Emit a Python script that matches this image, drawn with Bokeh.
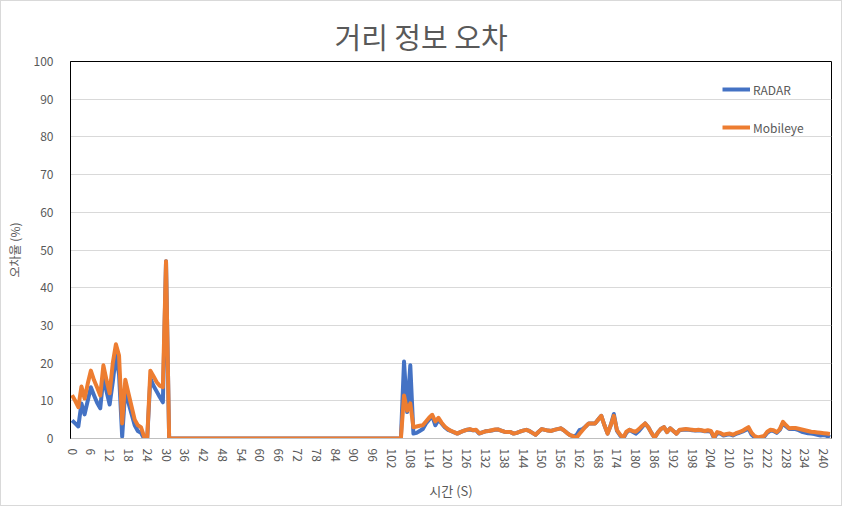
import math
from bokeh.plotting import figure
from bokeh.models import Range1d, FixedTicker, Legend, LegendItem, ColumnDataSource
from bokeh.embed import file_html
from bokeh.resources import INLINE

# ---- data ----
time_s = list(range(0, 243))
tick_values = list(range(0, 241, 6))
y_ticks = list(range(0, 101, 10))

radar = [
    4.8, 4.0, 3.2, 9.3, 6.4, 10.0, 13.6, 11.5, 9.5, 8.0,
    16.3, 12.5, 9.0, 15.0, 22.0, 17.0, 0.5, 13.0, 9.5, 6.5,
    3.5, 2.0, 1.5, 0.0, 0.0, 16.0, 14.0, 12.5, 11.0, 9.6,
    47.0,
    0, 0, 0, 0, 0, 0, 0, 0, 0, 0, 0, 0, 0, 0, 0, 0, 0, 0, 0, 0, 0, 0, 0, 0, 0,
    0, 0, 0, 0, 0, 0, 0, 0, 0, 0, 0, 0, 0, 0, 0, 0, 0, 0, 0, 0, 0, 0, 0, 0, 0,
    0, 0, 0, 0, 0, 0, 0, 0, 0, 0, 0, 0, 0, 0, 0, 0, 0, 0, 0, 0, 0, 0, 0, 0, 0,
    20.4, 7.0, 19.4, 1.3,
    1.5, 2.0, 2.5, 4.0, 5.0, 6.0, 3.5, 5.0, 4.0, 3.0,
    2.3, 2.0, 1.6, 1.3, 1.7, 2.0, 2.3, 2.4, 2.2, 2.2,
    1.3, 1.6, 1.9, 2.0, 2.1, 2.3, 2.4, 2.1, 1.8, 1.7,
    1.7, 1.3, 1.5, 1.8, 2.1, 2.3, 2.0, 1.5, 1.0, 1.8,
    2.5, 2.3, 2.1, 2.0, 2.3, 2.5, 2.7, 2.2, 1.5, 0.9,
    0.6, 0.8, 2.2, 2.5, 3.2, 4.0, 4.0, 4.0, 5.0, 6.0,
    3.5, 1.3, 3.5, 6.5, 2.0, 0.8, 0.0, 1.5, 2.3, 1.8,
    1.3, 2.0, 3.0, 4.0, 3.0, 1.5, 0.2, 1.5, 2.5, 3.0,
    1.7, 2.7, 2.0, 1.3, 2.2, 2.3, 2.4, 2.3, 2.2, 2.1,
    2.2, 2.1, 1.9, 2.0, 1.8, 0.1, 1.4, 1.3, 0.8, 1.0,
    1.1, 0.8, 1.2, 1.5, 1.8, 2.2, 2.6, 1.0, 0.3, 0.1,
    0.3, 0.5, 1.5, 2.1, 2.0, 1.5, 2.3, 4.0, 3.2, 2.5,
    2.6, 2.5, 2.2, 1.8, 1.6, 1.4, 1.3, 1.2, 1.0, 0.8,
    0.9, 0.7, 0.3,
]

mobileye = [
    11.5, 10.0, 8.3, 13.8, 10.6, 14.5, 18.0, 15.5, 13.5, 11.4,
    19.4, 15.5, 12.0, 20.0, 25.0, 22.0, 4.0, 15.6, 12.0, 8.5,
    5.0, 3.5, 3.0, 0.5, 0.0, 18.0, 16.5, 15.0, 14.0, 13.6,
    47.0,
    0, 0, 0, 0, 0, 0, 0, 0, 0, 0, 0, 0, 0, 0, 0, 0, 0, 0, 0, 0, 0, 0, 0, 0, 0,
    0, 0, 0, 0, 0, 0, 0, 0, 0, 0, 0, 0, 0, 0, 0, 0, 0, 0, 0, 0, 0, 0, 0, 0, 0,
    0, 0, 0, 0, 0, 0, 0, 0, 0, 0, 0, 0, 0, 0, 0, 0, 0, 0, 0, 0, 0, 0, 0, 0, 0,
    11.4, 7.4, 9.3, 3.0,
    3.2, 3.4, 3.5, 4.5, 5.5, 6.3, 4.5, 5.5, 4.2, 3.2,
    2.5, 2.0, 1.7, 1.3, 1.7, 2.0, 2.3, 2.5, 2.2, 2.3,
    1.4, 1.6, 1.9, 2.0, 2.2, 2.4, 2.4, 2.1, 1.8, 1.7,
    1.7, 1.3, 1.5, 1.8, 2.1, 2.3, 2.0, 1.5, 1.0, 1.8,
    2.5, 2.3, 2.1, 2.0, 2.3, 2.5, 2.7, 2.2, 1.5, 0.9,
    0.6, 0.1, 1.2, 2.2, 3.2, 4.0, 4.0, 4.0, 5.0, 6.0,
    3.5, 1.3, 3.5, 6.0, 2.2, 1.0, 0.2, 1.8, 2.3, 2.0,
    1.8, 2.5, 3.3, 4.0, 3.0, 1.5, 0.2, 1.5, 2.5, 3.0,
    1.7, 2.7, 2.0, 1.3, 2.3, 2.4, 2.5, 2.4, 2.3, 2.2,
    2.3, 2.2, 2.0, 2.2, 2.0, 0.3, 1.7, 1.5, 1.0, 1.2,
    1.3, 1.0, 1.4, 1.7, 2.0, 2.5, 3.0, 1.5, 0.6, 0.3,
    0.5, 0.7, 1.8, 2.3, 2.2, 1.7, 2.5, 4.4, 3.5, 2.7,
    2.8, 2.8, 2.6, 2.4, 2.2, 2.0, 1.8, 1.7, 1.6, 1.5,
    1.4, 1.3, 1.2,
]

series_names = ["RADAR", "Mobileye"]
series_colors = ["#4472C4", "#ED7D31"]

FONT = "Noto Sans CJK KR"
GREY = "#595959"

source = ColumnDataSource(dict(t=time_s, radar=radar, mobileye=mobileye))

p = figure(
    width=842, height=506,
    output_backend="svg", toolbar_location=None,
    x_range=Range1d(-0.5, 242.5), y_range=Range1d(0, 100),
    min_border_left=69, min_border_right=12,
    min_border_top=60, min_border_bottom=69,
)
p.styles = {"border": "1px solid #d9d9d9"}
p.background_fill_color = "white"
p.border_fill_color = "white"
p.outline_line_color = "black"
p.outline_line_width = 1

# title
p.title.text = "거리 정보 오차"
p.title.align = "left"
p.title.text_font = FONT
p.title.text_font_size = "29px"
p.title.text_font_style = "normal"
p.title.text_color = GREY
p.title.offset = 264
p.title.standoff = 9

r1 = p.line("t", "radar", source=source, line_color=series_colors[0],
            line_width=4, line_join="round")
r2 = p.line("t", "mobileye", source=source, line_color=series_colors[1],
            line_width=4, line_join="round")

# axes
xa = p.xaxis[0]
xa.ticker = FixedTicker(ticks=tick_values)
xa.major_label_orientation = -math.pi / 2
xa.major_label_text_font = FONT
xa.major_label_text_font_size = "12px"
xa.major_label_text_color = GREY
xa.major_tick_line_color = None
xa.minor_tick_line_color = None
xa.axis_line_color = "#bfbfbf"
xa.major_label_standoff = 4
xa.axis_label = "시간 (S)"
xa.axis_label_text_font = FONT
xa.axis_label_text_font_size = "13px"
xa.axis_label_text_font_style = "normal"
xa.axis_label_text_color = GREY
xa.axis_label_standoff = 10

ya = p.yaxis[0]
ya.ticker = FixedTicker(ticks=y_ticks)
ya.major_label_text_font = FONT
ya.major_label_text_font_size = "12px"
ya.major_label_text_color = GREY
ya.major_tick_line_color = None
ya.minor_tick_line_color = None
ya.axis_line_color = "black"
ya.major_label_standoff = 11
ya.axis_label = "오차율 (%)"
ya.axis_label_text_font = FONT
ya.axis_label_text_font_size = "12px"
ya.axis_label_text_font_style = "normal"
ya.axis_label_text_color = GREY
ya.axis_label_standoff = 8

p.xgrid.grid_line_color = None
p.ygrid.grid_line_color = "#d9d9d9"
p.ygrid.grid_line_width = 1

legend = Legend(
    items=[LegendItem(label=series_names[0], renderers=[r1]),
           LegendItem(label=series_names[1], renderers=[r2])],
    location=(652, 301),
    orientation="vertical",
    padding=0, margin=0,
    spacing=18,
    glyph_width=28, glyph_height=20,
    label_standoff=3,
    label_text_font=FONT, label_text_font_size="12px", label_text_color=GREY,
    background_fill_alpha=0, border_line_alpha=0,
)
p.add_layout(legend)

open("out.html", "w").write(file_html(p, INLINE))
